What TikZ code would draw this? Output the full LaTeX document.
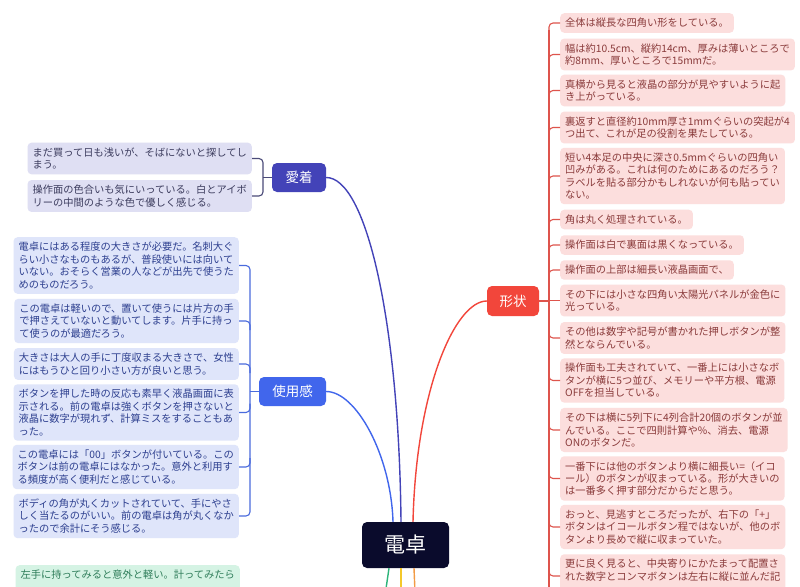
\documentclass[tikz,border=0pt]{standalone}
\usepackage{fontspec}
\setmainfont{Noto Sans CJK JP}
\definecolor{rline}{HTML}{DE544C}
\definecolor{rfill}{HTML}{FCDEDD}
\definecolor{rtext}{HTML}{8A3B3B}
\definecolor{rnode}{HTML}{F2463B}
\definecolor{bline}{HTML}{4A6BDD}
\definecolor{bfill}{HTML}{DFE5FA}
\definecolor{btext}{HTML}{2D3F8F}
\definecolor{bnode}{HTML}{4166EC}
\definecolor{iline}{HTML}{4A4A78}
\definecolor{ifill}{HTML}{DFDFF3}
\definecolor{itext}{HTML}{3C3C5E}
\definecolor{inode}{HTML}{4343B8}
\definecolor{hubcol}{HTML}{0A0B2C}
\definecolor{gfill}{HTML}{D5F3E4}
\definecolor{gtext}{HTML}{2F7D5A}
\definecolor{gline}{HTML}{2DB57A}
\definecolor{yline}{HTML}{F4C82A}
\definecolor{oline}{HTML}{F29B45}
\begin{document}
\begin{tikzpicture}[x=1pt,y=-1pt,
  leaf/.style={rounded corners=4pt, inner xsep=5pt, inner ysep=5pt, align=left, font=\fontsize{10.25}{12.4}\selectfont},
  rleaf/.style={leaf, fill=rfill, text=rtext, anchor=west},
  bleaf/.style={leaf, fill=bfill, text=btext, anchor=east},
  ileaf/.style={leaf, fill=ifill, text=itext, anchor=east},
  topic/.style={rounded corners=5pt, text=white, font=\fontsize{13.5}{15}\selectfont, inner sep=0pt},
  conn/.style={line width=1.4pt},
  brk/.style={line width=1.1pt, rounded corners=4pt},
]
\useasboundingbox (0,0) rectangle (800,586);
\fill[white] (0,0) rectangle (800,586);
\clip (0,0) rectangle (800,586);

% right column (shape)
\node[rleaf] (r1) at (560,23) {全体は縦長な四角い形をしている。};
\node[rleaf] (r2) at (560,54.5) {幅は約10.5cm、縦約14cm、厚みは薄いところで\\約8mm、厚いところで15mmだ。};
\node[rleaf] (r3) at (560,90.5) {真横から見ると液晶の部分が見やすいように起\\き上がっている。};
\node[rleaf] (r4) at (560,127.5) {裏返すと直径約10mm厚さ1mmぐらいの突起が4\\つ出て、これが足の役割を果たしている。};
\node[rleaf] (r5) at (560,176) {短い4本足の中央に深さ0.5mmぐらいの四角い\\凹みがある。これは何のためにあるのだろう？\\ラベルを貼る部分かもしれないが何も貼ってい\\ない。};
\node[rleaf] (r6) at (560,219.5) {角は丸く処理されている。};
\node[rleaf] (r7) at (560,245) {操作面は白で裏面は黒くなっている。};
\node[rleaf] (r8) at (560,270) {操作面の上部は細長い液晶画面で、};
\node[rleaf] (r9) at (560,300.5) {その下には小さな四角い太陽光パネルが金色に\\光っている。};
\node[rleaf] (r10) at (560,338) {その他は数字や記号が書かれた押しボタンが整\\然とならんでいる。};
\node[rleaf] (r11) at (560,380.5) {操作面も工夫されていて、一番上には小さなボ\\タンが横に5つ並び、メモリーや平方根、電源\\OFFを担当している。};
\node[rleaf] (r12) at (560,430) {その下は横に5列下に4列合計20個のボタンが並\\んでいる。ここで四則計算や\%、消去、電源\\ONのボタンだ。};
\node[rleaf] (r13) at (560,478.5) {一番下には他のボタンより横に細長い=（イコ\\ール）のボタンが収まっている。形が大きいの\\は一番多く押す部分だからだと思う。};
\node[rleaf] (r14) at (560,527) {おっと、見逃すところだったが、右下の「+」\\ボタンはイコールボタン程ではないが、他のボ\\タンより長めで縦に収まっていた。};
\node[rleaf] (r15) at (560,576) {更に良く見ると、中央寄りにかたまって配置さ\\れた数字とコンマボタンは左右に縦に並んだ記\\\mbox{}};

\node[topic, fill=rnode, minimum width=52pt, minimum height=30pt] (keijou) at (513,301) {形状};

\draw[brk, rline] (549,30) -- (549,600);
\foreach \n/\c in {r1/23,r2/54.5,r3/90.5,r4/127.5,r5/176,r6/219.5,r7/245,r8/270}
  {\draw[brk, rline] (549,\c+9) |- (\n.west);}
\foreach \n/\c in {r10/338,r11/380.5,r12/430,r13/478.5,r14/527,r15/576}
  {\draw[brk, rline] (549,\c-9) |- (\n.west);}
\draw[brk, rline] (549,300.5) -- (r9.west);
\draw[brk, rline] (keijou.east) -- (549,301);

% left top (attachment)
\node[ileaf] (a1) at (252,158.5) {まだ買って日も浅いが、そばにないと探してし\\まう。};
\node[ileaf] (a2) at (252,196) {操作面の色合いも気にいっている。白とアイボ\\リーの中間のような色で優しく感じる。};
\node[topic, fill=inode, minimum width=54pt, minimum height=29pt] (aichaku) at (299,177.5) {愛着};
\draw[brk, iline] (a1.east) -| (263,177.5) |- (a2.east);
\draw[brk, iline] (263,177.5) -- (aichaku.west);

% left (usability)
\node[bleaf] (u1) at (239,265.5) {電卓にはある程度の大きさが必要だ。名刺大ぐ\\らい小さなものもあるが、普段使いには向いて\\いない。おそらく営業の人などが出先で使うた\\めのものだろう。};
\node[bleaf] (u2) at (239,321) {この電卓は軽いので、置いて使うには片方の手\\で押さえていないと動いてします。片手に持っ\\て使うのが最適だろう。};
\node[bleaf] (u3) at (239,364) {大きさは大人の手に丁度収まる大きさで、女性\\にはもうひと回り小さい方が良いと思う。};
\node[bleaf] (u4) at (239,412.5) {ボタンを押した時の反応も素早く液晶画面に表\\示される。前の電卓は強くボタンを押さないと\\液晶に数字が現れず、計算ミスをすることもあ\\った。};
\node[bleaf] (u5) at (239,467) {この電卓には「00」ボタンが付いている。この\\ボタンは前の電卓にはなかった。意外と利用す\\る頻度が高く便利だと感じている。};
\node[bleaf] (u6) at (239,516) {ボディの角が丸くカットされていて、手にやさ\\しく当たるのがいい。前の電卓は角が丸くなか\\ったので余計にそう感じる。};
\node[topic, fill=bnode, minimum width=67pt, minimum height=29pt] (shiyou) at (292.5,391.5) {使用感};
\draw[brk, bline] (u1.east) -| (250,391.5) |- (u6.east);
\draw[brk, bline] (u2.east) -| (250,330);
\draw[brk, bline] (u3.east) -| (250,373);
\draw[brk, bline] (u4.east) -| (250,403.5);
\draw[brk, bline] (u5.east) -| (250,458);
\draw[brk, bline] (250,391.5) -- (shiyou.west);

% bottom left (green)
\node[leaf, fill=gfill, text=gtext, anchor=north east] (g1) at (240,565) {左手に持ってみると意外と軽い。計ってみたら\\\mbox{}};

% center
\node[rounded corners=5pt, fill=hubcol, text=white, font=\fontsize{21}{24}\selectfont, minimum width=87pt, minimum height=46pt, inner sep=0pt] (hub) at (405.5,545) {電卓};

\draw[conn, inode] (aichaku.east) .. controls (366,177.5) and (399,320) .. ([xshift=-4.5pt]hub.north);
\draw[conn, bnode] (shiyou.east) .. controls (356,391.5) and (391,455) .. ([xshift=-12.5pt]hub.north);
\draw[conn, rnode] (keijou.west) .. controls (455,301) and (416,390) .. ([xshift=7.5pt]hub.north);

\coordinate (gend) at (385.5,592);
\coordinate (yend) at (401,592);
\coordinate (oend) at (415,592);
\draw[conn, gline] ([xshift=-16.5pt]hub.south) -- (gend);
\draw[conn, yline] ([xshift=-4.5pt]hub.south) -- (yend);
\draw[conn, oline] ([xshift=8.5pt]hub.south) -- (oend);
\end{tikzpicture}
\end{document}
